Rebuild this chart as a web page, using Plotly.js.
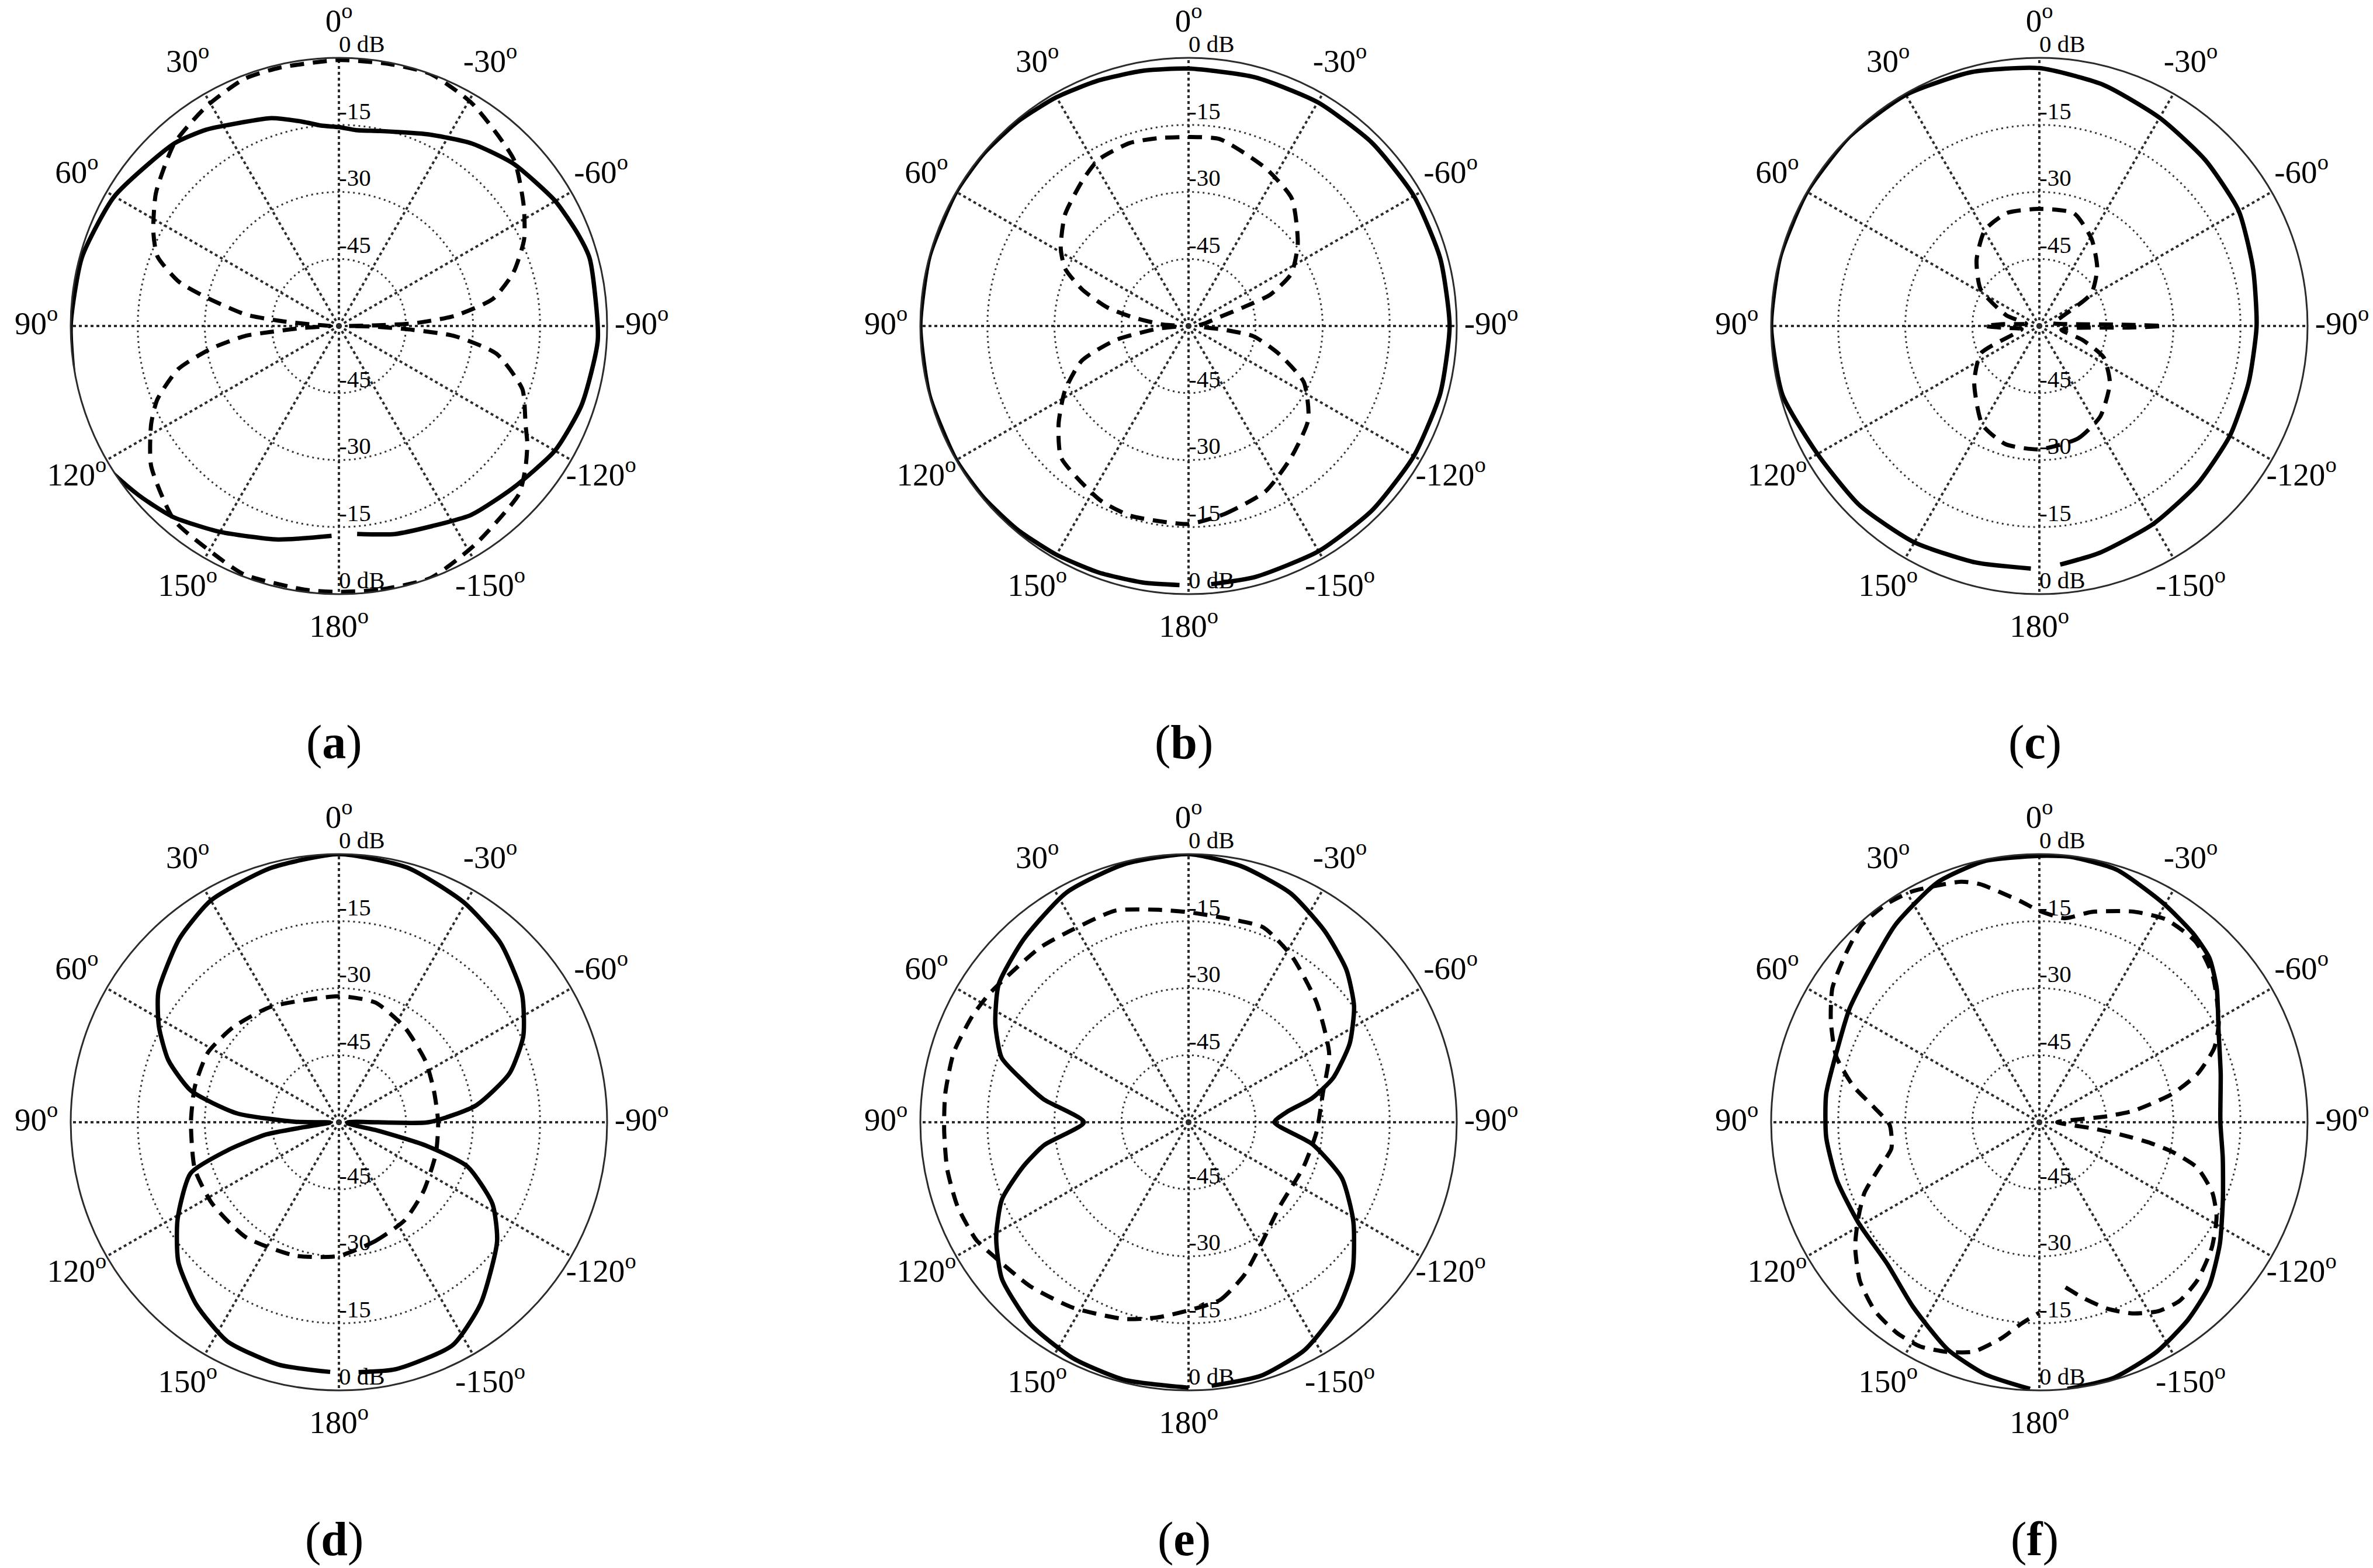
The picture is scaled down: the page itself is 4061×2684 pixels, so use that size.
<!DOCTYPE html>
<html>
<head>
<meta charset="utf-8">
<script src="https://cdn.plot.ly/plotly-3.0.1.min.js"></script>
<style>
  html, body { margin: 0; padding: 0; background: #fff; }
  #chart { width: 4061px; height: 2684px; }
</style>
</head>
<body>
<div id="chart"></div>
<script>
// angular ticks (0 at top, counterclockwise)
const angleTicks = [0, 30, 60, 90, 120, 150, 180, 210, 240, 270, 300, 330];
const angleLabels = ['0', '30', '60', '90', '120', '150', '180', '-150', '-120', '-90', '-60', '-30'];
// radial labels, drawn along 0 and 180 deg
const dbTicks = [0, -15, -30, -45];
const dbLabels = ['0 dB', '-15', '-30', '-45'];
const panelNames = ['a', 'b', 'c', 'd', 'e', 'f'];

// (a)
const thetaASolid = [-175, -165, -155, -145, -133, -120, -108, -93, -75, -69, -60, -47, -36, -25, -12, -5, 0, 5, 10, 18, 29, 34, 42, 60, 75, 90, 105, 118, 130, 139, 150, 164, 178];
const rASolid = [-13.3, -11.8, -10.6, -8.4, -6.8, -4.2, -2.9, -2.0, -1.9, -2.7, -4.1, -6.7, -9.5, -12.7, -15.4, -16, -15.5, -15, -13.6, -11.1, -8.6, -7, -5, -2, -0.5, 0, 0.8, 1.6, -1.3, -3.4, -6.8, -10.3, -13];
const thetaADash = [-180, -171, -160, -148, -133, -127, -122, -118, -109, -100, -95, -93, -91, -90, -89, -88, -85, -80, -73, -65, -57, -46.5, -31, -20, -11, 0, 13, 21, 31, 42, 54, 63, 69, 74.5, 78, 83, 85, 87, 90, 93, 95, 96, 100, 105, 112, 117.6, 126.7, 139.7, 150, 159, 172.5, 180];
const rADash = [-0.5, -0.3, 0, -2.4, -4.9, -7.7, -10.3, -12.7, -16.6, -24.2, -34, -43.4, -52, -58, -52, -43.4, -34, -25, -19.2, -14.3, -10.7, -6, -2, 0, -0.3, -0.5, -0.7, -0.8, -2.6, -5.0, -9.4, -13.4, -16.5, -22.8, -30, -39, -46.5, -54, -58, -52, -44.6, -39, -31, -22.8, -16.2, -12.6, -7.6, -3, -2, -0.5, -0.5, -0.5];

// (b)
const thetaBSolid = [-175, -165, -150, -135, -120, -105, -90, -75, -60, -45, -30, -15, 0, 10, 20, 30, 40, 50, 60, 75, 90, 105, 120, 130, 140, 150, 160, 170, 178];
const rBSolid = [-2.0, -1.9, -1.8, -1.8, -1.8, -1.7, -1.6, -1.7, -1.8, -2.0, -2.2, -2.4, -2.4, -2.0, -1.5, -0.9, -0.4, -0.1, 0, 0, 0, 0, 0, -0.2, -0.5, -0.9, -1.3, -1.7, -2.0];
const thetaBDash = [-180, -169, -155, -142, -128, -116, -107, -99, -96, -90, -80, -74, -71, -69, -63, -53, -39, -26, -9.5, 0, 9.5, 18, 28.5, 36, 48, 58.6, 65, 71, 77, 81, 86.5, 90, 95, 101, 108, 117.6, 127, 136, 153, 163, 180];
const rBDash = [-15.7, -17.2, -19.2, -22.7, -26, -31.3, -39, -45.3, -52, -58, -56, -52.7, -46.6, -40.4, -34.2, -29.4, -23.3, -20.7, -17.6, -17.7, -17.4, -17, -17.7, -19.7, -22.8, -26.5, -29.5, -34.8, -41.2, -47.2, -53.9, -58, -53, -43.3, -34.9, -28.8, -23.6, -19, -16.3, -15.6, -15.7];

// (c)
const thetaCSolid = [-175, -165, -150, -135, -120, -105, -90, -75, -60, -45, -30, -15, 0, 15, 30, 45, 60, 75, 90, 105, 120, 135, 150, 165, 178];
const rCSolid = [-6.4, -7.5, -8.9, -10, -10.8, -11.5, -11.4, -10.5, -8.5, -7.5, -6.2, -4.2, -2.3, -1.2, -0.3, 0, 0, 0, 0, -0.5, -2.7, -3.2, -4.1, -5.2, -5.7];
const thetaCDash = [-180, -161, -146, -129, -116, -108, -100, -93, -91, -90, -89, -86, -78, -68, -58, -45, -31, -17, 0, 16, 29.5, 43.5, 58, 72, 80, 87, 90, 93, 100, 115, 131, 150, 164, 180];
const rCDash = [-32.4, -33.4, -35.6, -39.7, -44, -49.8, -55, -52, -40, -32.3, -42, -54, -57, -54.7, -46.3, -41.7, -37.3, -33.6, -33.8, -33.7, -35.3, -39.6, -44.5, -52.2, -57, -52, -47.8, -52, -56, -45.6, -40.7, -34.5, -32.5, -32.4];

// (d)
const thetaDSolid = [-175.5, -167, -153, -142, -127, -118, -109, -105, -102, -98, -90, -90, -83, -74, -65, -55, -42, -29.5, -15, 0, 15, 30, 41, 54, 62, 70, 78, 85, 89.4, 92, 98, 99.5, 104, 109, 121, 131, 142, 153, 166, 178];
const rDSolid = [-3.9, -3.3, -4, -8.5, -15.7, -21.1, -29.6, -40, -51.7, -58, -58, -40, -29.1, -20.3, -14.5, -10, -6, -3.4, -1, 0, -1.1, -2.7, -5.6, -10.1, -14.4, -19.4, -26.2, -37.1, -50.3, -58, -52.1, -43.6, -34.6, -24.9, -17.9, -12.4, -8.2, -5, -4.1, -4.1];
const thetaDDash = [-180, -163, -146, -129, -108, -90, -71.5, -55, -35, -17, 0, 30.6, 48, 62, 76, 90, 108, 122.6, 141, 162, 180];
const rDDash = [-30.1, -32.2, -33.6, -35.6, -37.2, -37.8, -37.6, -36.3, -34.2, -32, -31.8, -30, -28.2, -26.8, -26.8, -26.9, -26.1, -26.3, -26.9, -28.6, -30.1];

// (e)
const thetaESolid = [-175, -164, -153, -141, -132, -121, -110, -100, -90, -84, -79, -73, -64, -55, -46, -35.5, -24, -11.6, 0, 14, 28, 42, 54, 63, 71, 76, 81, 90, 99, 105, 112.5, 121, 130, 142, 154, 166, 180];
const rESolid = [-0.8, -1, -2.8, -6.7, -10.6, -17, -23.5, -31.9, -40.8, -37.9, -31.9, -26.2, -19.9, -14.8, -10.9, -7.5, -3.9, -1.5, 0, -0.5, -1.8, -4.9, -7.5, -11.5, -15.8, -21.9, -27.2, -36.6, -27.3, -21.7, -14.8, -9.8, -5.5, -2.6, -1.2, -0.6, -0.6];
const thetaEDash = [-180, -170, -160, -148, -133, -111, -94.5, -78, -64, -47, -32, -21, -11, 0, 8, 19, 31, 40.5, 57, 64, 73.5, 83.5, 92, 101, 110, 119, 124.5, 136, 148, 162, 171, 180];
const rEDash = [-17.9, -19.6, -23.6, -28.7, -32.2, -32.4, -31.3, -29.3, -25, -20.8, -16.3, -13.3, -13.6, -13, -12, -9.9, -9.7, -8.7, -7, -6.1, -5.2, -5.2, -5.3, -5, -5, -5.7, -7.1, -9, -11.1, -13.7, -15.8, -17.9];

// (f)
const thetaFSolid = [-174, -164, -153, -143, -134, -124, -113, -101, -90, -75, -63, -53, -46, -39, -29.5, -17, -6.6, 0, 12, 23, 36, 47, 59, 71, 82.5, 94, 106, 119, 133, 145.5, 158, 168, 178];
const rFSolid = [0, -0.4, -2.3, -4.7, -7.2, -11.3, -15.4, -18.2, -19.5, -18, -15, -10.3, -7.1, -5.5, -3.7, -0.9, -0.2, -0.4, -0.3, -1.7, -5.3, -8.6, -10.5, -12, -11.9, -12.2, -12.9, -13.7, -13.5, -10, -5.2, -2.3, -0.3];
const thetaFDash = [-171, -166, -160, -154, -148, -142, -135, -126, -118, -112, -106, -102.5, -100.6, -98.6, -96.5, -90, -85, -83, -78, -73, -67, -61, -50, -41, -32, -24, -14, -7, 0, 5, 14, 18, 29, 35, 42, 49, 57, 64, 72, 79, 85, 91, 100, 106, 112, 118, 124, 131.5, 139, 146, 152, 158, 164, 170, 175, 180];
const rFDash = [-22.6, -19.5, -15.6, -12.4, -10.1, -9.2, -10, -12.3, -15.1, -18.3, -23.3, -29.6, -34.7, -41.6, -48.3, -56, -45, -38.7, -29.7, -23, -17.5, -14.1, -9.3, -6.6, -6.5, -8.4, -11.5, -14, -12.7, -10.3, -5.1, -3.4, -1, -0.4, -0.6, -2.6, -4.8, -8.1, -12.2, -17.6, -23, -26.5, -26.4, -22.7, -17.8, -14.1, -10.3, -6.4, -4, -3.1, -3.2, -4.6, -6.6, -10.9, -14.8, -17.4];

const panels = [
  {solid: [thetaASolid, rASolid], dash: [thetaADash, rADash]},
  {solid: [thetaBSolid, rBSolid], dash: [thetaBDash, rBDash]},
  {solid: [thetaCSolid, rCSolid], dash: [thetaCDash, rCDash]},
  {solid: [thetaDSolid, rDSolid], dash: [thetaDDash, rDDash]},
  {solid: [thetaESolid, rESolid], dash: [thetaEDash, rEDash]},
  {solid: [thetaFSolid, rFSolid], dash: [thetaFDash, rFDash]}
];

const W = 4061, H = 2684;
const R = 459;        // radius of the 0 dB circle, px
const RL = 518;       // radius where angle labels are centred, px
const centersX = [580, 2034, 3490];
const centersY = [558, 1921];
const labelY = [1271, 2634];
const serif = 'Liberation Serif, Times New Roman, serif';

function domainFor(cx, cy, rad) {
  return {
    x: [(cx - rad) / W, (cx + rad) / W],
    y: [1 - (cy + rad) / H, 1 - (cy - rad) / H]
  };
}

function polarLayout(cx, cy) {
  return {
    domain: domainFor(cx, cy, R),
    bgcolor: 'rgba(0,0,0,0)',
    radialaxis: {
      range: [-60, 0],
      tickmode: 'array',
      tickvals: [-45, -30, -15],
      showticklabels: false,
      ticks: '',
      showline: false,
      gridcolor: '#333',
      gridwidth: 3,
      griddash: '3px,6px'
    },
    angularaxis: {
      rotation: 90,
      direction: 'counterclockwise',
      tickmode: 'array',
      tickvals: angleTicks,
      showticklabels: false,
      ticks: '',
      showline: true,
      linecolor: '#2b2b2b',
      linewidth: 3,
      gridcolor: '#2b2b2b',
      gridwidth: 4,
      griddash: '5px,5px'
    }
  };
}

// invisible, slightly larger polar used only to place the angle labels
function labelPolarLayout(cx, cy) {
  return {
    domain: domainFor(cx, cy, RL),
    bgcolor: 'rgba(0,0,0,0)',
    radialaxis: {range: [-60, 0], visible: false},
    angularaxis: {
      rotation: 90,
      direction: 'counterclockwise',
      visible: false,
      showgrid: false,
      showline: false,
      showticklabels: false,
      ticks: ''
    }
  };
}

function createTraces() {
  let traces = [];
  for (let i = 0; i < panels.length; i++) {
    let sub = i === 0 ? 'polar' : 'polar' + (i + 1);
    let p = panels[i];
    traces.push({
      type: 'scatterpolar', subplot: sub, mode: 'lines',
      theta: p.dash[0], r: p.dash[1], cliponaxis: false, hoverinfo: 'skip',
      line: {color: '#000', width: 7, dash: '24px,15px', shape: 'spline', smoothing: 0.6}
    });
    traces.push({
      type: 'scatterpolar', subplot: sub, mode: 'lines',
      theta: p.solid[0], r: p.solid[1], cliponaxis: false, hoverinfo: 'skip',
      line: {color: '#000', width: 7.5, shape: 'spline', smoothing: 0.6}
    });
    // dB labels along the 0 and 180 deg spokes
    traces.push({
      type: 'scatterpolar', subplot: sub, mode: 'text',
      theta: dbTicks.map(() => 0).concat(dbTicks.map(() => 180)),
      r: dbTicks.concat(dbTicks),
      text: dbLabels.concat(dbLabels),
      textposition: 'top right',
      textfont: {family: serif, size: 41, color: '#000'},
      cliponaxis: false, hoverinfo: 'skip'
    });
    // angle labels on the outer label layer
    traces.push({
      type: 'scatterpolar', subplot: 'polar' + (7 + i), mode: 'text',
      theta: angleTicks,
      r: angleTicks.map(() => 0),
      text: angleLabels.map(s => s + '<sup>o</sup>'),
      textposition: 'middle center',
      textfont: {family: serif, size: 55, color: '#000'},
      cliponaxis: false, hoverinfo: 'skip'
    });
  }
  return traces;
}

function createView() {
  let layout = {
    width: W, height: H,
    margin: {l: 0, r: 0, t: 0, b: 0},
    paper_bgcolor: '#fff',
    showlegend: false,
    font: {family: serif, color: '#000'},
    annotations: []
  };
  for (let i = 0; i < panels.length; i++) {
    let cx = centersX[i % 3];
    let row = Math.floor(i / 3);
    let key = i === 0 ? 'polar' : 'polar' + (i + 1);
    layout[key] = polarLayout(cx, centersY[row]);
    layout['polar' + (7 + i)] = labelPolarLayout(cx, centersY[row]);
    layout.annotations.push({
      xref: 'paper', yref: 'paper',
      x: (cx - 8) / W, y: 1 - labelY[row] / H,
      xanchor: 'center', yanchor: 'middle',
      text: '(<b>' + panelNames[i] + '</b>)',
      showarrow: false,
      font: {family: serif, size: 82, color: '#000'}
    });
  }
  Plotly.newPlot('chart', createTraces(), layout, {staticPlot: true});
}

createView();
</script>
</body>
</html>
